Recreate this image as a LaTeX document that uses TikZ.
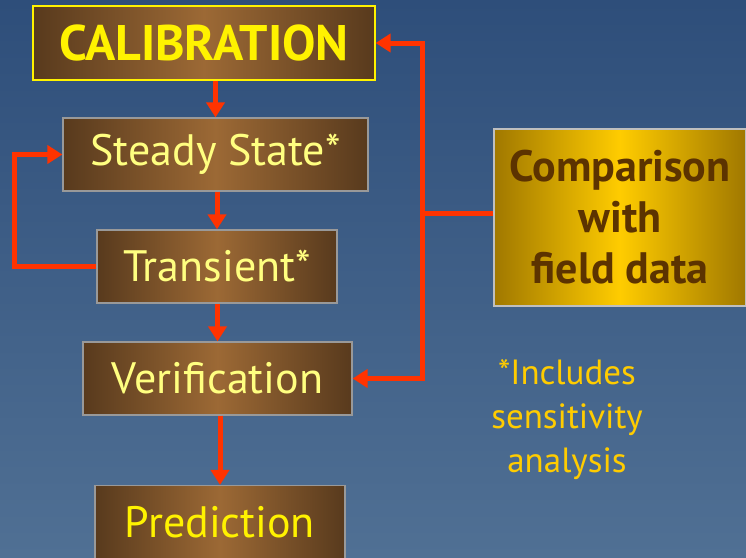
\documentclass[tikz,border=0pt]{standalone}
\usepackage{fontspec}
\setmainfont{PT Sans}
\usetikzlibrary{arrows.meta}
\definecolor{bgtop}{HTML}{2E4E7A}
\definecolor{bgbot}{HTML}{507094}
\definecolor{brdark}{HTML}{583A1D}
\definecolor{brlight}{HTML}{9C6935}
\definecolor{golddark}{HTML}{A07800}
\definecolor{goldlight}{HTML}{FFCC00}
\definecolor{arrowred}{HTML}{FF3300}
\definecolor{paleyellow}{HTML}{FFFF80}
\definecolor{cmptext}{HTML}{5C3300}
\begin{document}
\begin{tikzpicture}[x=1pt,y=-1pt]
    \tikzstyle{step box} = [rectangle, inner sep=0pt, text centered, draw=gray!80, line width=1.2pt,
        left color=brdark, right color=brdark, middle color=brlight, minimum height=73pt,
        text=paleyellow, font=\fontsize{44}{46}\selectfont]
    \tikzstyle{cmp box} = [rectangle, inner sep=0pt, align=center, draw=gray!50, line width=2pt,
        left color=golddark, right color=golddark, middle color=goldlight,
        text=cmptext, font=\bfseries\fontsize{44}{51}\selectfont]
    \tikzstyle{arrow} = [arrowred, line width=5pt, -{Triangle[length=15pt,width=18pt]}]
    \fill[top color=bgtop, bottom color=bgbot] (0,0) rectangle (746,557);
    \useasboundingbox (0,0) rectangle (746,557);
    \node (cal) [step box, minimum width=342pt, minimum height=74pt, draw=yellow, text=yellow,
        font=\bfseries\fontsize{50}{52}\selectfont] at (204,43) {CALIBRATION};
    \node (st) [step box, minimum width=305pt] at (215.5,154.5) {Steady State*};
    \node (tr) [step box, minimum width=240pt] at (217,266.5) {Transient*};
    \node (ver) [step box, minimum width=269pt] at (217.5,378.5) {Verification};
    \node (pred) [step box, minimum width=250pt, text=yellow] at (220,522) {Prediction};
    \node (cmp) [cmp box, minimum width=252pt, minimum height=177pt] at (620,217.5) {Comparison\\with\\field data};
    \node (note) [align=center, text=goldlight, font=\fontsize{35}{44}\selectfont] at (567,420) {*Includes\\sensitivity\\analysis};
    \coordinate (j) at (422,213);
    \draw[arrow] (cal.south -| st.north) to (st.north);
    \draw[arrow] (st.south -| tr.north) to (tr.north);
    \draw[arrow] (tr.south -| ver.north) to (ver.north);
    \draw[arrow] (ver.south -| pred.north) to (pred.north);
    \draw[arrow] (tr.west) -- ++(-82,0) |- (st.west);
    \draw[arrowred, line width=5pt] (cmp.west |- j) -- (j);
    \draw[arrow] (j) |- (cal.east);
    \draw[arrow] (j) |- (ver.east);
  \end{tikzpicture}
\end{document}
